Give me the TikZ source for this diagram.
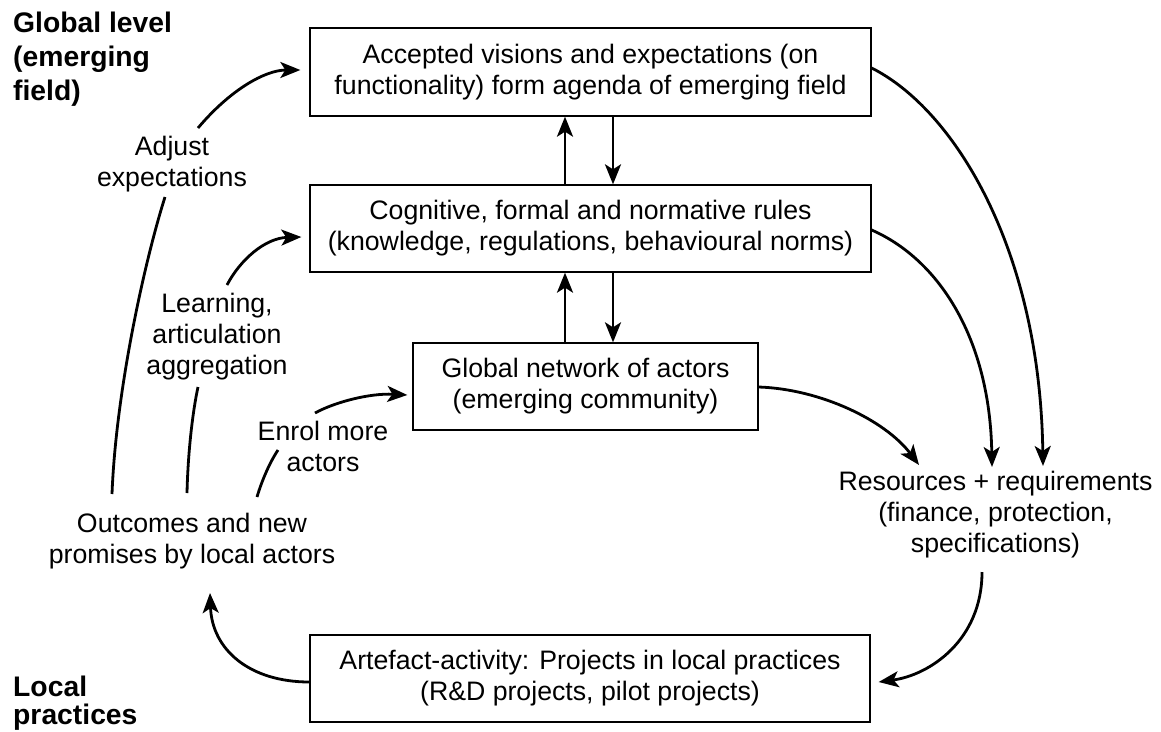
\documentclass[tikz,border=0pt]{standalone}
\usepackage{fontspec}
\setmainfont{Liberation Sans}
\usetikzlibrary{arrows.meta}
\begin{document}
\begin{tikzpicture}[x=1pt,y=-1pt,
  box/.style={draw, line width=1.3pt, align=center, inner sep=0pt, font=\fontsize{26.7}{31}\selectfont},
  lbl/.style={align=center, inner sep=0pt, font=\fontsize{26.7}{31}\selectfont},
  lvl/.style={align=left, anchor=west, inner sep=0pt, font=\fontsize{28.3}{34}\selectfont\bfseries},
  arr/.style={line width=2.8pt, -{Stealth[length=20pt,width=16pt,inset=5pt]}},
  ln/.style={line width=2.8pt}]
\useasboundingbox (0,0) rectangle (1161,731);
% boxes
\node[box, minimum width=561pt, minimum height=88pt] (vis) at (590.5,72) {Accepted visions and expectations (on\\functionality) form agenda of emerging field};
\node[box, minimum width=561pt, minimum height=87pt] (rules) at (590.5,228.5) {Cognitive, formal and normative rules\\(knowledge, regulations, behavioural norms)};
\node[box, minimum width=345pt, minimum height=87pt] (net) at (585.5,386.5) {Global network of actors\\(emerging community)};
\node[box, minimum width=560pt, minimum height=87pt] (art) at (590,678.5) {Artefact-activity: Projects in local practices\\(R\&D projects, pilot projects)};
% labels
\node[lbl] (adj) at (172,164) {Adjust\\expectations};
\node[lbl] (learn) at (217,337) {Learning,\\articulation\\aggregation};
\node[lbl] (enrol) at (323,446) {Enrol more\\actors};
\node[lbl] (out) at (192,541) {Outcomes and new\\promises by local actors};
\node[lbl] (res) at (995.5,514.5) {Resources + requirements\\(finance, protection,\\specifications)};
\node[lvl] (glob) at (13,59) {Global level\\(emerging\\field)};
\node[lvl, font=\fontsize{28.3}{28}\selectfont\bfseries] (loc) at (13,703) {Local\\practices};
% coordinates on curves
\coordinate (a1) at (112,494); \coordinate (a2) at (165,197); \coordinate (a3) at (198,128);
\coordinate (l1) at (187,493); \coordinate (l2) at (198,387); \coordinate (l3) at (227,285);
\coordinate (e1) at (257,497); \coordinate (e2) at (278,450); \coordinate (e3) at (315,413);
\coordinate (r1) at (919,465); \coordinate (r2) at (992,467); \coordinate (r3) at (1043,466);
\coordinate (r4) at (982,572); \coordinate (o1) at (210,593);
% vertical arrows
\draw[arr] ([xshift=-25.5pt]rules.north) -- ([xshift=-25.5pt]vis.south);
\draw[arr] ([xshift=22.5pt]vis.south) -- ([xshift=22.5pt]rules.north);
\draw[arr] ([xshift=-20.5pt]net.north) -- ([xshift=-25.5pt]rules.south);
\draw[arr] ([xshift=22.5pt]rules.south) -- ([xshift=27.5pt]net.north);
% left curves
\draw[ln] (a1) .. controls (116,390) and (145,260) .. (a2);
\draw[arr] (a3) .. controls (230,90) and (265,70) .. ([xshift=-9pt,yshift=2pt]vis.west);
\draw[ln] (l1) .. controls (188,450) and (193,410) .. (l2);
\draw[arr] (l3) .. controls (240,260) and (265,238) .. ([xshift=-8pt,yshift=-8.5pt]rules.west);
\draw[ln] (e1) .. controls (262,480) and (270,462) .. (e2);
\draw[arr] (e3) .. controls (335,402) and (370,393) .. ([xshift=-5pt,yshift=-8.5pt]net.west);
% right curves
\draw[arr] ([yshift=-0.5pt]net.east) .. controls (820,389) and (885,420) .. (r1);
\draw[arr] ([yshift=-1.5pt]rules.east) .. controls (940,260) and (990,340) .. (r2);
\draw[arr] ([yshift=4pt]vis.east) .. controls (955,110) and (1040,250) .. (r3);
\draw[arr] (r4) .. controls (982,640) and (930,675) .. ([xshift=8pt,yshift=-3.5pt]art.east);
\draw[arr] ([yshift=-3.5pt]art.west) .. controls (250,682) and (212,650) .. (o1);
\end{tikzpicture}
\end{document}
